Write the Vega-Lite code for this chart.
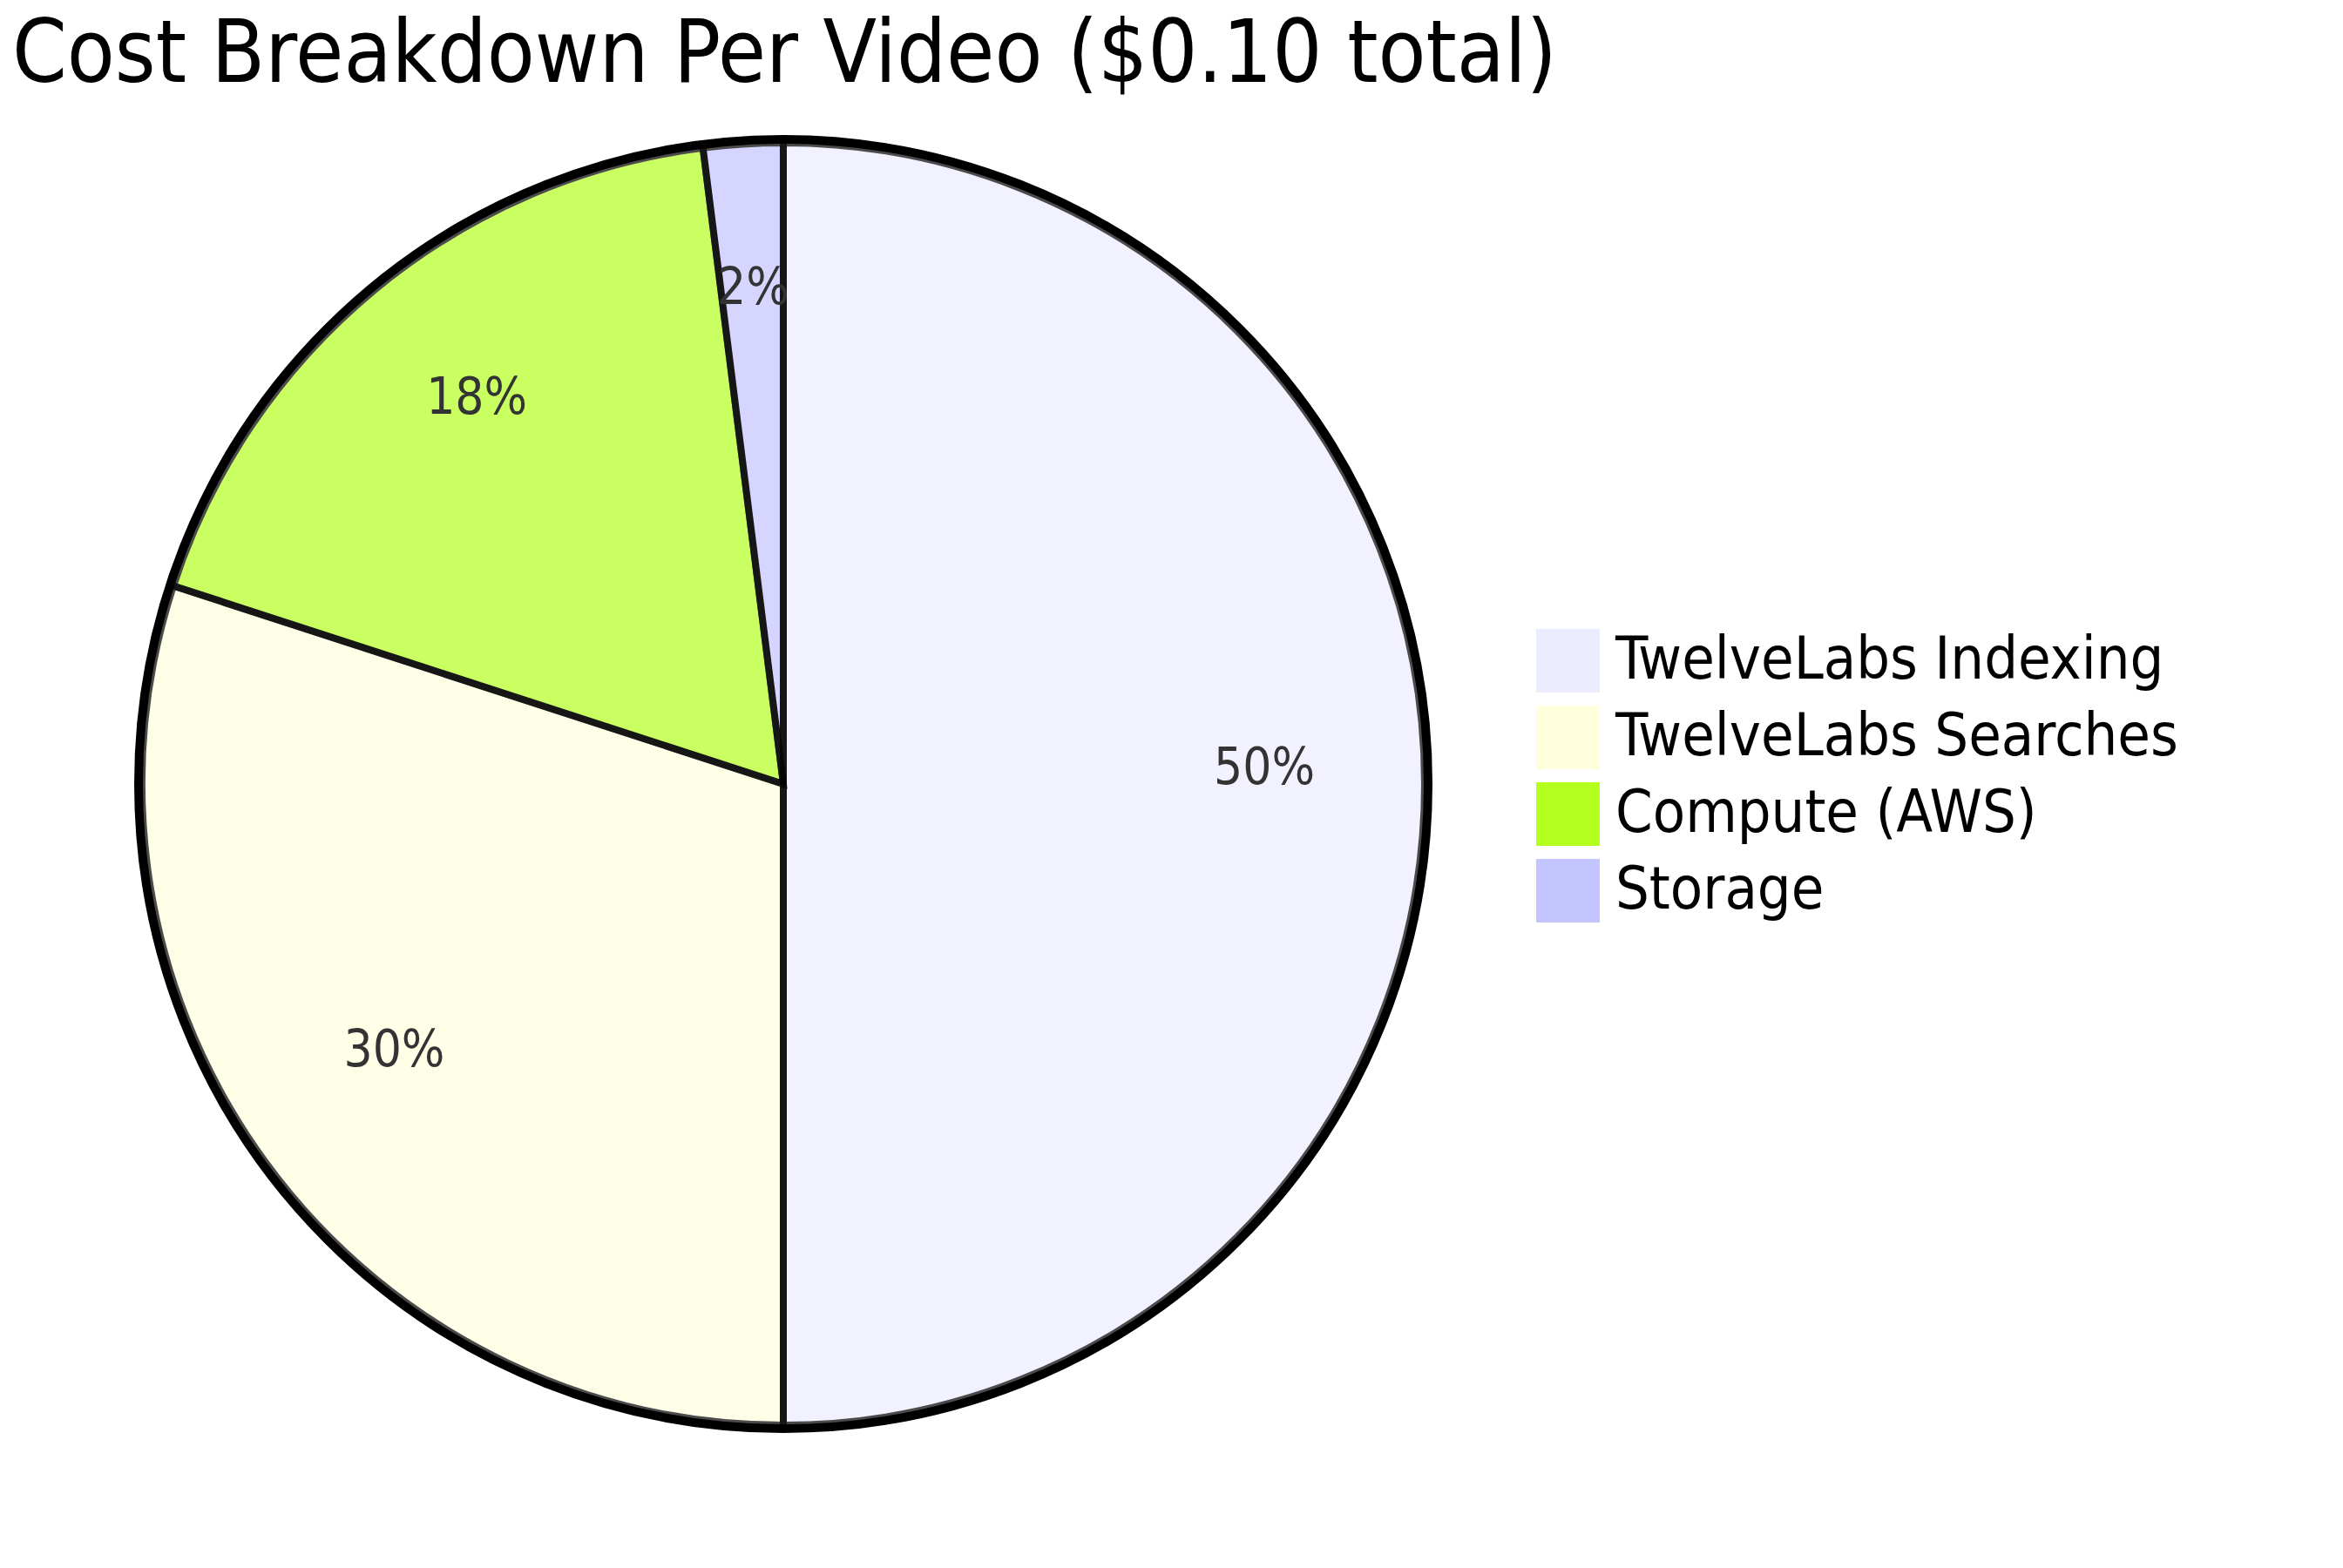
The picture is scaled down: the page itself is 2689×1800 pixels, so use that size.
{
  "$schema": "https://vega.github.io/schema/vega-lite/v6.json",
  "width": 1798,
  "height": 1800,
  "autosize": {"type": "none"},
  "padding": {"left": 0, "top": 0, "right": 891, "bottom": 0},
  "background": "white",
  "config": {"view": {"stroke": null}},
  "title": {
    "text": "Cost Breakdown Per Video ($0.10 total)",
    "anchor": "start",
    "frame": "group",
    "orient": "top",
    "offset": 0,
    "baseline": "alphabetic",
    "dy": 194,
    "dx": 14,
    "font": "DejaVu Sans Condensed",
    "fontSize": 100,
    "fontWeight": "normal",
    "color": "#000000"
  },
  "layer": [
    {
      "data": {
        "values": [
          {"idx": 1, "category": "TwelveLabs Indexing", "value": 50, "label": "50%"},
          {"idx": 2, "category": "TwelveLabs Searches", "value": 30, "label": "30%"},
          {"idx": 3, "category": "Compute (AWS)", "value": 18, "label": "18%"},
          {"idx": 4, "category": "Storage", "value": 2, "label": "2%"}
        ]
      },
      "encoding": {
        "theta": {"field": "value", "type": "quantitative", "stack": true},
        "order": {"field": "idx", "type": "quantitative", "sort": "ascending"}
      },
      "layer": [
        {
          "mark": {"type": "arc", "radius": 736, "opacity": 0.7, "stroke": "#000000", "strokeWidth": 8},
          "encoding": {
            "color": {
              "field": "category",
              "type": "nominal",
              "sort": ["TwelveLabs Indexing", "TwelveLabs Searches", "Compute (AWS)", "Storage"],
              "scale": {
                "domain": ["TwelveLabs Indexing", "TwelveLabs Searches", "Compute (AWS)", "Storage"],
                "range": ["#ECECFF", "#FFFFDE", "#B5FF20", "#C4C4FF"]
              },
              "legend": {
                "title": null,
                "orient": "none",
                "legendX": 1763,
                "legendY": 722,
                "padding": 0,
                "symbolType": "square",
                "symbolSize": 5329,
                "symbolStrokeWidth": 0,
                "symbolOpacity": 1,
                "rowPadding": 15,
                "labelOffset": 18,
                "labelFont": "DejaVu Sans Condensed",
                "labelFontSize": 68,
                "labelColor": "#000000",
                "labelLimit": 900
              }
            }
          }
        },
        {
          "mark": {"type": "text", "radius": 552, "font": "DejaVu Sans Condensed", "fontSize": 58, "color": "#333333", "align": "center", "baseline": "alphabetic"},
          "encoding": {
            "text": {"field": "label", "type": "nominal"}
          }
        }
      ]
    },
    {
      "data": {"values": [{"ring": "outline", "value": 100}]},
      "mark": {"type": "arc", "radius": 740, "fill": null, "filled": false, "stroke": "#000000", "strokeWidth": 10},
      "encoding": {
        "theta": {"field": "value", "type": "quantitative", "stack": true}
      }
    }
  ]
}
